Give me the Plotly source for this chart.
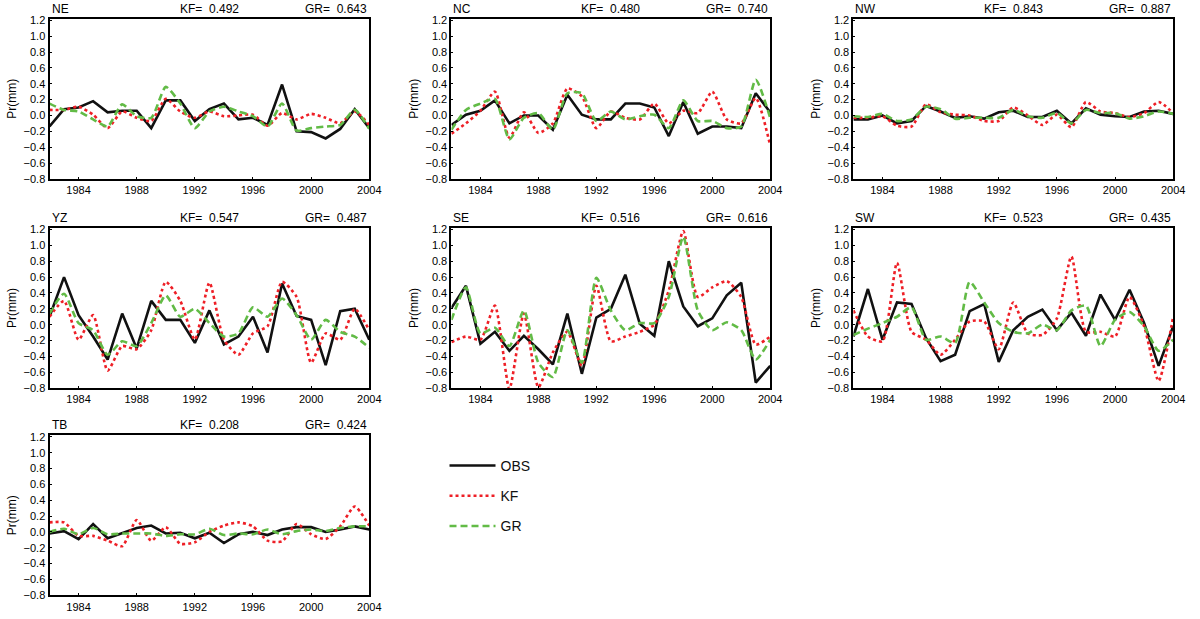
import plotly.graph_objects as go

# Years on the x axis
years = list(range(1982, 2005))

# Regions and correlation scores (KF, GR) shown in each panel header
regions = ['NE', 'NC', 'NW', 'YZ', 'SE', 'SW', 'TB']
kf_score = ['0.492', '0.480', '0.843', '0.547', '0.516', '0.523', '0.208']
gr_score = ['0.643', '0.740', '0.887', '0.487', '0.616', '0.435', '0.424']

# Precipitation anomaly series (mm)
obs_ne = [-0.14, 0.08, 0.10, 0.18, 0.04, 0.06, 0.06, -0.16, 0.19, 0.19, -0.07, 0.08, 0.15,
          -0.05, -0.03, -0.12, 0.39, -0.20, -0.21, -0.29, -0.17, 0.08, -0.16]
kf_ne = [0.07, 0.07, 0.11, 0.01, -0.16, 0.05, -0.03, -0.07, 0.21, 0.05, -0.03, 0.05, -0.01,
         0.0, 0.01, -0.13, 0.03, -0.05, 0.02, -0.03, -0.10, 0.05, -0.12]
gr_ne = [0.15, 0.07, 0.05, -0.05, -0.14, 0.14, -0.01, -0.03, 0.36, 0.15, -0.16, 0.05, 0.11,
         0.05, -0.01, -0.14, 0.15, -0.19, -0.16, -0.14, -0.12, 0.07, -0.17]

obs_nc = [-0.12, 0.01, 0.06, 0.19, -0.10, 0.0, 0.0, -0.18, 0.26, 0.01, -0.05, -0.05, 0.15,
          0.15, 0.10, -0.26, 0.17, -0.23, -0.14, -0.14, -0.16, 0.28, 0.04]
kf_nc = [-0.23, -0.10, 0.06, 0.30, -0.28, 0.04, -0.22, -0.10, 0.34, 0.24, -0.16, 0.05, -0.03,
         -0.05, 0.15, -0.10, 0.06, 0.03, 0.30, -0.05, -0.10, 0.22, -0.38]
gr_nc = [-0.18, 0.07, 0.15, 0.21, -0.30, -0.03, 0.03, -0.18, 0.28, 0.28, -0.07, 0.05, -0.05,
         -0.01, 0.01, -0.16, 0.19, -0.07, -0.07, -0.16, -0.14, 0.45, -0.03]

obs_nw = [-0.05, -0.05, 0.0, -0.10, -0.07, 0.12, 0.05, -0.03, -0.01, -0.04, 0.04, 0.06, -0.02,
          -0.02, 0.06, -0.10, 0.09, 0.01, -0.01, -0.02, 0.05, 0.06, 0.02]
kf_nw = [-0.03, -0.03, -0.01, -0.13, -0.14, 0.14, 0.04, 0.01, 0.0, -0.07, -0.07, 0.10, 0.0,
         -0.12, 0.01, -0.15, 0.17, 0.05, 0.03, -0.02, 0.03, 0.17, 0.03]
gr_nw = [-0.01, -0.02, 0.02, -0.07, -0.05, 0.11, 0.08, -0.04, -0.03, -0.03, -0.03, 0.07, -0.01,
         -0.03, 0.03, -0.10, 0.07, 0.03, 0.03, -0.04, -0.01, 0.05, 0.02]

obs_yz = [0.10, 0.60, 0.12, -0.15, -0.44, 0.14, -0.30, 0.30, 0.06, 0.06, -0.23, 0.18, -0.25,
          -0.15, 0.10, -0.35, 0.52, 0.11, 0.06, -0.51, 0.17, 0.20, -0.19]
kf_yz = [0.10, 0.30, -0.19, 0.12, -0.58, -0.27, -0.31, -0.07, 0.54, 0.30, -0.19, 0.53, -0.19,
         -0.38, -0.11, -0.02, 0.54, 0.35, -0.48, -0.11, -0.19, 0.20, -0.07]
gr_yz = [0.14, 0.39, 0.02, -0.07, -0.38, -0.21, -0.27, 0.02, 0.37, 0.10, 0.20, 0.02, -0.15,
         -0.11, 0.22, 0.10, 0.33, 0.12, -0.19, 0.06, -0.09, -0.15, -0.29]

obs_se = [0.21, 0.49, -0.24, -0.09, -0.33, -0.14, -0.31, -0.50, 0.14, -0.62, 0.09, 0.20, 0.63,
          0.01, -0.14, 0.80, 0.23, -0.02, 0.08, 0.37, 0.53, -0.73, -0.52]
kf_se = [-0.22, -0.15, -0.19, 0.24, -0.81, 0.14, -0.79, -0.35, -0.09, -0.52, 0.49, -0.21, -0.15,
         -0.09, 0.0, 0.43, 1.18, 0.35, 0.47, 0.55, 0.35, -0.25, -0.15]
gr_se = [0.06, 0.47, -0.11, -0.04, -0.27, 0.18, -0.48, -0.66, -0.07, -0.48, 0.59, 0.18, -0.07,
         0.02, 0.02, 0.35, 1.11, 0.18, -0.07, 0.03, -0.07, -0.44, -0.19]

obs_sw = [-0.15, 0.45, -0.19, 0.28, 0.26, -0.17, -0.46, -0.38, 0.17, 0.26, -0.47, -0.07, 0.10,
          0.19, -0.07, 0.15, -0.14, 0.38, 0.06, 0.44, 0.02, -0.52, -0.02]
kf_sw = [0.18, -0.15, -0.21, 0.78, -0.09, -0.19, -0.38, -0.19, 0.04, 0.04, -0.31, 0.28, -0.11,
         -0.13, 0.08, 0.86, -0.09, -0.09, -0.15, 0.35, -0.02, -0.71, 0.10]
gr_sw = [-0.13, -0.05, 0.02, 0.10, 0.22, -0.19, -0.15, -0.23, 0.54, 0.28, 0.02, -0.09, -0.11,
         0.0, -0.07, 0.18, 0.24, -0.27, 0.06, 0.16, -0.02, -0.33, -0.19]

obs_tb = [-0.02, 0.01, -0.09, 0.10, -0.08, -0.01, 0.05, 0.08, -0.02, -0.01, -0.08, -0.01, -0.14,
          -0.03, 0.0, -0.04, 0.03, 0.06, 0.06, 0.0, 0.03, 0.07, 0.03]
kf_tb = [0.12, 0.12, -0.05, -0.05, -0.11, -0.18, 0.15, -0.11, 0.06, -0.15, -0.13, 0.0, 0.08,
         0.12, 0.07, -0.11, -0.12, 0.10, -0.03, -0.09, 0.07, 0.32, 0.08]
gr_tb = [0.0, 0.04, -0.03, 0.05, -0.03, -0.02, -0.02, -0.02, -0.05, -0.03, -0.03, 0.04, -0.04,
         -0.02, -0.03, 0.03, -0.03, 0.01, 0.03, 0.01, 0.05, 0.07, 0.07]

obs_all = [obs_ne, obs_nc, obs_nw, obs_yz, obs_se, obs_sw, obs_tb]
kf_all = [kf_ne, kf_nc, kf_nw, kf_yz, kf_se, kf_sw, kf_tb]
gr_all = [gr_ne, gr_nc, gr_nw, gr_yz, gr_se, gr_sw, gr_tb]

W, H = 1200, 619
FONT = 'Liberation Sans, Arial, Helvetica, sans-serif'
RED = '#ee1f26'
GREEN = '#62bb46'

# panel boxes in pixels (left, right) and (top, bottom)
cols = [(50, 373), (456, 778), (862, 1185)]
rows = [(14, 177), (227, 390), (438, 601)]

fig = go.Figure()
layout = {}

for i, reg in enumerate(regions):
    r, c = divmod(i, 3)
    x0, x1 = cols[c]
    t, b = rows[r]
    n = '' if i == 0 else str(i + 1)
    xa, ya = 'x' + n, 'y' + n
    first = (i == 0)

    fig.add_trace(go.Scatter(x=years, y=obs_all[i], mode='lines', name='OBS',
                             line=dict(color='#111111', width=2.6),
                             xaxis=xa, yaxis=ya, showlegend=first, legendgroup='obs'))
    fig.add_trace(go.Scatter(x=years, y=kf_all[i], mode='lines', name='KF',
                             line=dict(color=RED, width=2.6, dash='3px,3px', shape='spline', smoothing=0.6),
                             xaxis=xa, yaxis=ya, showlegend=first, legendgroup='kf'))
    fig.add_trace(go.Scatter(x=years, y=gr_all[i], mode='lines', name='GR',
                             line=dict(color=GREEN, width=2.6, dash='7px,4px', shape='spline', smoothing=0.6),
                             xaxis=xa, yaxis=ya, showlegend=first, legendgroup='gr'))

    layout['xaxis' + n] = dict(
        domain=[x0 / W, x1 / W], anchor=ya, range=[1982, 2004],
        tickvals=[1984, 1988, 1992, 1996, 2000, 2004], ticks='inside', ticklen=2,
        tickcolor='black', showline=True, linecolor='black', linewidth=2, mirror=True,
        showgrid=False, zeroline=False, tickfont=dict(size=11, color='black'))
    layout['yaxis' + n] = dict(
        domain=[1 - b / H, 1 - t / H], anchor=xa, range=[-0.8, 1.22],
        tickvals=[-0.8, -0.6, -0.4, -0.2, 0.0, 0.2, 0.4, 0.6, 0.8, 1.0, 1.2],
        tickformat='.1f', ticks='inside', ticklen=2, tickcolor='black',
        showline=True, linecolor='black', linewidth=2, mirror=True,
        showgrid=False, zeroline=False, tickfont=dict(size=11, color='black'),
        title=dict(text='Pr(mm)', font=dict(size=12, color='black'), standoff=4))

    # panel header texts
    yt = 1 - (t - 1) / H
    fig.add_annotation(x=x0 / W, y=yt, xref='paper', yref='paper', xanchor='left', yanchor='bottom',
                       text=reg, showarrow=False, font=dict(size=12, color='black'))
    fig.add_annotation(x=(x0 + x1) / 2 / W, y=yt, xref='paper', yref='paper', xanchor='center',
                       yanchor='bottom', text='KF=  ' + kf_score[i], showarrow=False,
                       font=dict(size=12, color='black'))
    fig.add_annotation(x=x1 / W, y=yt, xref='paper', yref='paper', xanchor='right', yanchor='bottom',
                       text='GR=  ' + gr_score[i], showarrow=False, font=dict(size=12, color='black'))

fig.update_layout(**layout)
fig.update_layout(
    width=W, height=H, margin=dict(l=0, r=0, t=0, b=0),
    paper_bgcolor='white', plot_bgcolor='white',
    font=dict(family=FONT, color='black'),
    legend=dict(x=449 / W, y=1 - 453 / H, xanchor='left', yanchor='top',
                font=dict(size=14, color='#111111'), tracegroupgap=9,
                bgcolor='rgba(0,0,0,0)', itemwidth=46),
)

# page has a default 8px body margin; drop it so the figure fills the window
fig.write_html("out.html", config={'displayModeBar': False},
               post_script="document.body.style.margin='0';")
